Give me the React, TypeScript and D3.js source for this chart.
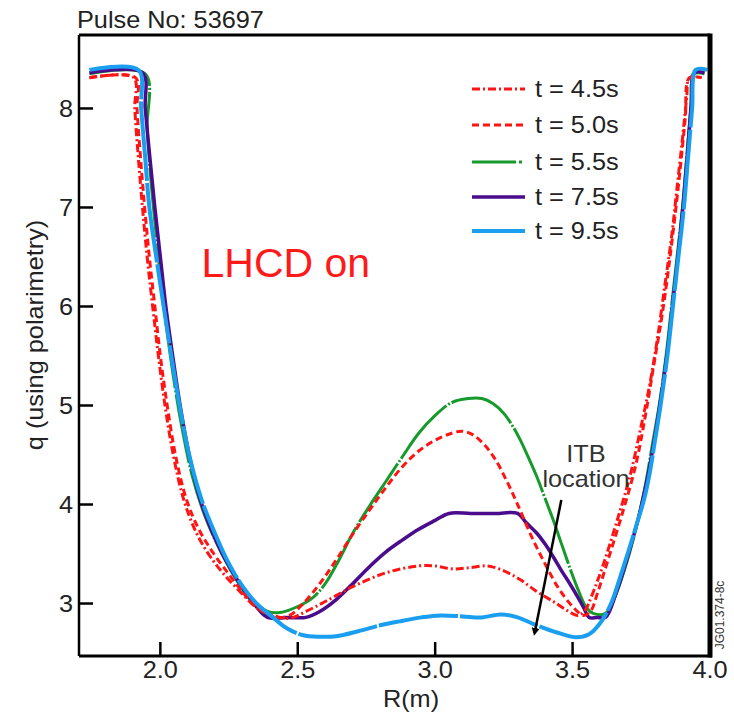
import React from "react";
import * as d3 from "d3";

const W = 734;
const H = 713;

// axis ticks
const xTicks = [2.0, 2.5, 3.0, 3.5, 4.0];
const yTicks = [3, 4, 5, 6, 7, 8];

const legendLabels = ["t = 4.5s", "t = 5.0s", "t = 5.5s", "t = 7.5s", "t = 9.5s"];

// [R (m), q]
const q45: [number, number][] = [
  [1.742, 8.31], [1.903, 8.31], [1.907, 8.0], [1.92, 7.5], [1.935, 7.0], [1.952, 6.5], [1.972, 6.0],
  [1.993, 5.5], [2.017, 5.0], [2.047, 4.5], [2.085, 4.05], [2.13, 3.72], [2.18, 3.48], [2.23, 3.3],
  [2.29, 3.12], [2.35, 2.96], [2.41, 2.88], [2.47, 2.85], [2.53, 2.92], [2.6, 3.02], [2.7, 3.17],
  [2.82, 3.31], [2.94, 3.38], [3.0, 3.38], [3.06, 3.35], [3.12, 3.36], [3.19, 3.38], [3.25, 3.33],
  [3.31, 3.24], [3.37, 3.12], [3.43, 3.02], [3.48, 2.93], [3.52, 2.88], [3.545, 2.93], [3.57, 3.08],
  [3.61, 3.38], [3.66, 3.82], [3.71, 4.3], [3.75, 4.8], [3.78, 5.2], [3.81, 5.7], [3.835, 6.2],
  [3.86, 6.7], [3.88, 7.2], [3.9, 7.7], [3.915, 8.1], [3.925, 8.31], [3.96, 8.31],
];

const q50: [number, number][] = [
  [1.742, 8.31], [1.91, 8.31], [1.915, 8.0], [1.928, 7.5], [1.943, 7.0], [1.96, 6.5], [1.98, 6.0],
  [2.0, 5.5], [2.025, 5.0], [2.055, 4.5], [2.095, 4.05], [2.14, 3.75], [2.19, 3.52], [2.24, 3.33],
  [2.29, 3.15], [2.35, 2.96], [2.42, 2.86], [2.47, 2.88], [2.52, 3.0], [2.58, 3.2], [2.64, 3.44],
  [2.7, 3.7], [2.76, 3.94], [2.82, 4.17], [2.88, 4.38], [2.94, 4.54], [3.0, 4.65], [3.06, 4.72],
  [3.1, 4.74], [3.14, 4.7], [3.18, 4.6], [3.22, 4.45], [3.26, 4.24], [3.3, 4.0], [3.35, 3.68],
  [3.4, 3.4], [3.45, 3.15], [3.5, 2.97], [3.54, 2.88], [3.565, 2.92], [3.59, 3.1], [3.63, 3.45],
  [3.68, 3.9], [3.73, 4.4], [3.765, 4.9], [3.795, 5.4], [3.825, 5.9], [3.85, 6.4], [3.872, 6.9],
  [3.892, 7.4], [3.91, 7.9], [3.925, 8.31], [3.97, 8.31],
];

const q55: [number, number][] = [
  [1.742, 8.35], [1.945, 8.35], [1.952, 7.8], [1.965, 7.3], [1.982, 6.8], [2.0, 6.3], [2.022, 5.8],
  [2.047, 5.3], [2.077, 4.8], [2.115, 4.3], [2.16, 3.9], [2.21, 3.58], [2.27, 3.27], [2.33, 3.03],
  [2.39, 2.92], [2.435, 2.91], [2.5, 2.97], [2.555, 3.06], [2.6, 3.2], [2.65, 3.44], [2.7, 3.71],
  [2.76, 3.98], [2.82, 4.23], [2.88, 4.48], [2.94, 4.72], [3.0, 4.9], [3.06, 5.03], [3.12, 5.07],
  [3.17, 5.07], [3.21, 5.02], [3.25, 4.92], [3.28, 4.8], [3.31, 4.65], [3.34, 4.47], [3.37, 4.28],
  [3.4, 4.06], [3.43, 3.84], [3.46, 3.6], [3.49, 3.36], [3.52, 3.14], [3.55, 2.96], [3.575, 2.9],
  [3.62, 2.9], [3.65, 3.04], [3.69, 3.35], [3.73, 3.75], [3.765, 4.2], [3.79, 4.6], [3.815, 5.0],
  [3.84, 5.5], [3.86, 6.0], [3.88, 6.5], [3.9, 7.0], [3.915, 7.5], [3.93, 8.0], [3.942, 8.35],
  [3.98, 8.35],
];

const q75: [number, number][] = [
  [1.742, 8.36], [1.935, 8.36], [1.945, 8.0], [1.962, 7.5], [1.98, 7.0], [2.0, 6.5], [2.02, 6.0],
  [2.045, 5.5], [2.072, 5.0], [2.105, 4.5], [2.145, 4.05], [2.2, 3.65], [2.26, 3.33], [2.33, 3.04],
  [2.39, 2.86], [2.46, 2.86], [2.53, 2.86], [2.58, 2.92], [2.64, 3.04], [2.7, 3.2], [2.76, 3.37],
  [2.82, 3.52], [2.88, 3.64], [2.94, 3.75], [3.0, 3.84], [3.05, 3.91], [3.13, 3.91], [3.22, 3.91],
  [3.3, 3.91], [3.33, 3.82], [3.37, 3.71], [3.4, 3.6], [3.43, 3.47], [3.46, 3.33], [3.49, 3.2],
  [3.52, 3.06], [3.54, 2.96], [3.56, 2.86], [3.59, 2.86], [3.62, 2.86], [3.66, 3.12], [3.7, 3.47],
  [3.74, 3.87], [3.775, 4.3], [3.8, 4.7], [3.82, 5.05], [3.845, 5.55], [3.865, 6.05], [3.885, 6.55],
  [3.903, 7.05], [3.918, 7.55], [3.932, 8.05], [3.943, 8.36], [3.98, 8.36],
];

const q95: [number, number][] = [
  [1.742, 8.39], [1.92, 8.39], [1.93, 8.0], [1.945, 7.5], [1.96, 7.0], [1.985, 6.5], [2.012, 6.0],
  [2.04, 5.5], [2.07, 5.0], [2.105, 4.5], [2.15, 4.05], [2.2, 3.7], [2.25, 3.4], [2.3, 3.17],
  [2.35, 3.0], [2.41, 2.86], [2.46, 2.75], [2.52, 2.68], [2.58, 2.665], [2.64, 2.67], [2.72, 2.72],
  [2.8, 2.78], [2.87, 2.82], [2.95, 2.86], [3.02, 2.88], [3.1, 2.87], [3.17, 2.86], [3.24, 2.89],
  [3.3, 2.86], [3.36, 2.79], [3.44, 2.71], [3.51, 2.66], [3.56, 2.69], [3.6, 2.8], [3.64, 3.0],
  [3.67, 3.24], [3.7, 3.5], [3.73, 3.77], [3.76, 4.05], [3.78, 4.31], [3.8, 4.65], [3.82, 5.0],
  [3.845, 5.5], [3.865, 6.0], [3.885, 6.5], [3.905, 7.0], [3.92, 7.5], [3.935, 8.0], [3.948, 8.39],
  [3.99, 8.39],
];

// ITB arrow, tail then head, in data units
const itbArrow: [number, number][] = [[3.459, 4.045], [3.362, 2.705]];

const series = [
  { key: "t45", label: legendLabels[0], data: q45, color: "#ff1414", width: 3, dash: "8,3,2,3", legendDash: "8,3,2,3" },
  { key: "t50", label: legendLabels[1], data: q50, color: "#ff1414", width: 3, dash: "7,4", legendDash: "7,4" },
  { key: "t55", label: legendLabels[2], data: q55, color: "#169a2c", width: 3, dash: "70,2,2,2", legendDash: "44,3,3,3" },
  { key: "t75", label: legendLabels[3], data: q75, color: "#4a0c8c", width: 3.5, dash: null, legendDash: null },
  { key: "t95", label: legendLabels[4], data: q95, color: "#1a9ef0", width: 4, dash: "80,2", legendDash: null },
];
// draw order: blue on top, reds over green/purple
const drawOrder = ["t55", "t75", "t50", "t45", "t95"];

const FONT = "'Liberation Sans', Arial, sans-serif";

function Txt({ x, y, anchor = "start", size = 23, rotate = 0, fill = "#222", sx = 1.1, children }: any) {
  const tr = `translate(${x},${y})${rotate ? ` rotate(${rotate})` : ""} scale(${sx},1)`;
  return (
    <text transform={tr} textAnchor={anchor} fontSize={size} fill={fill} fontFamily={FONT}>
      {children}
    </text>
  );
}

export default function App() {
  const left = 79, right = 710, top = 35, bottom = 656;

  const x = d3.scaleLinear().domain([1.704, 4.0]).range([left, right]);
  const y = d3.scaleLinear().domain([2.47, 8.742]).range([bottom, top]);

  const line = d3
    .line<[number, number]>()
    .x((d) => x(d[0]))
    .y((d) => y(d[1]))
    .curve(d3.curveCatmullRom.alpha(0.5));

  const ordered = drawOrder.map((k) => series.find((s) => s.key === k)!);

  const legendY = [89, 125, 162, 197, 231];

  return (
    <svg width={W} height={H} style={{ position: "absolute", left: 0, top: 0, background: "#fff" }}>
      <defs>
        <marker id="arrowhead" viewBox="0 0 10 10" refX="6" refY="5" markerWidth="3.2" markerHeight="3.2" orient="auto">
          <path d="M0,0L10,5L0,10z" fill="#000" />
        </marker>
        <clipPath id="plot">
          <rect x={left} y={top} width={right - left} height={bottom - top} />
        </clipPath>
      </defs>

      <Txt x={77} y={28}>Pulse No: 53697</Txt>

      {/* curves */}
      <g clipPath="url(#plot)">
        {ordered.map((s) => (
          <path
            key={s.key}
            d={line(s.data) || ""}
            fill="none"
            stroke={s.color}
            strokeWidth={s.width}
            strokeDasharray={s.dash || undefined}
            strokeLinejoin="round"
          />
        ))}
      </g>

      {/* frame */}
      <line x1={left} x2={right} y1={top} y2={top} stroke="#000" strokeWidth={3} />
      <line x1={left} x2={left} y1={top} y2={bottom} stroke="#000" strokeWidth={2.5} />
      <line x1={left} x2={right + 2} y1={bottom} y2={bottom} stroke="#000" strokeWidth={3} />
      <line x1={right} x2={right} y1={top - 1.5} y2={bottom + 1.5} stroke="#000" strokeWidth={5} />

      {/* y ticks */}
      {yTicks.map((t) => (
        <g key={`y${t}`}>
          <line x1={left} x2={left + 14} y1={y(t)} y2={y(t)} stroke="#000" strokeWidth={2.5} />
          <Txt x={73} y={y(t) + 8.5} anchor="end">{t}</Txt>
        </g>
      ))}

      {/* x ticks */}
      {xTicks.map((t) => (
        <g key={`x${t}`}>
          {t < 4 && <line x1={x(t)} x2={x(t)} y1={bottom} y2={bottom - 14} stroke="#000" strokeWidth={2.5} />}
          <Txt x={x(t)} y={678} anchor="middle">{t.toFixed(1)}</Txt>
        </g>
      ))}

      <Txt x={411} y={707} anchor="middle">R(m)</Txt>
      <Txt x={43} y={335} anchor="middle" rotate={-90}>q (using polarimetry)</Txt>

      {/* legend */}
      {series.map((s, i) => (
        <g key={`lg${s.key}`}>
          <line
            x1={472}
            x2={525}
            y1={legendY[i]}
            y2={legendY[i]}
            stroke={s.color}
            strokeWidth={s.width}
            strokeDasharray={s.legendDash || undefined}
          />
          <Txt x={535} y={legendY[i] + 8}>{s.label}</Txt>
        </g>
      ))}

      <text x={201.5} y={276.5} fontSize={41} fill="#ff1a1a" fontFamily={FONT}>LHCD on</text>

      {/* ITB annotation */}
      <Txt x={586} y={462} anchor="middle" fill="#333">ITB</Txt>
      <Txt x={586} y={487} anchor="middle" fill="#333">location</Txt>
      <line
        x1={x(itbArrow[0][0])}
        y1={y(itbArrow[0][1])}
        x2={x(itbArrow[1][0])}
        y2={y(itbArrow[1][1])}
        stroke="#000"
        strokeWidth={2.5}
        markerEnd="url(#arrowhead)"
      />

      <Txt x={724} y={615} anchor="middle" rotate={-90} size={12} sx={1} fill="#333">JG01.374-8c</Txt>
    </svg>
  );
}
